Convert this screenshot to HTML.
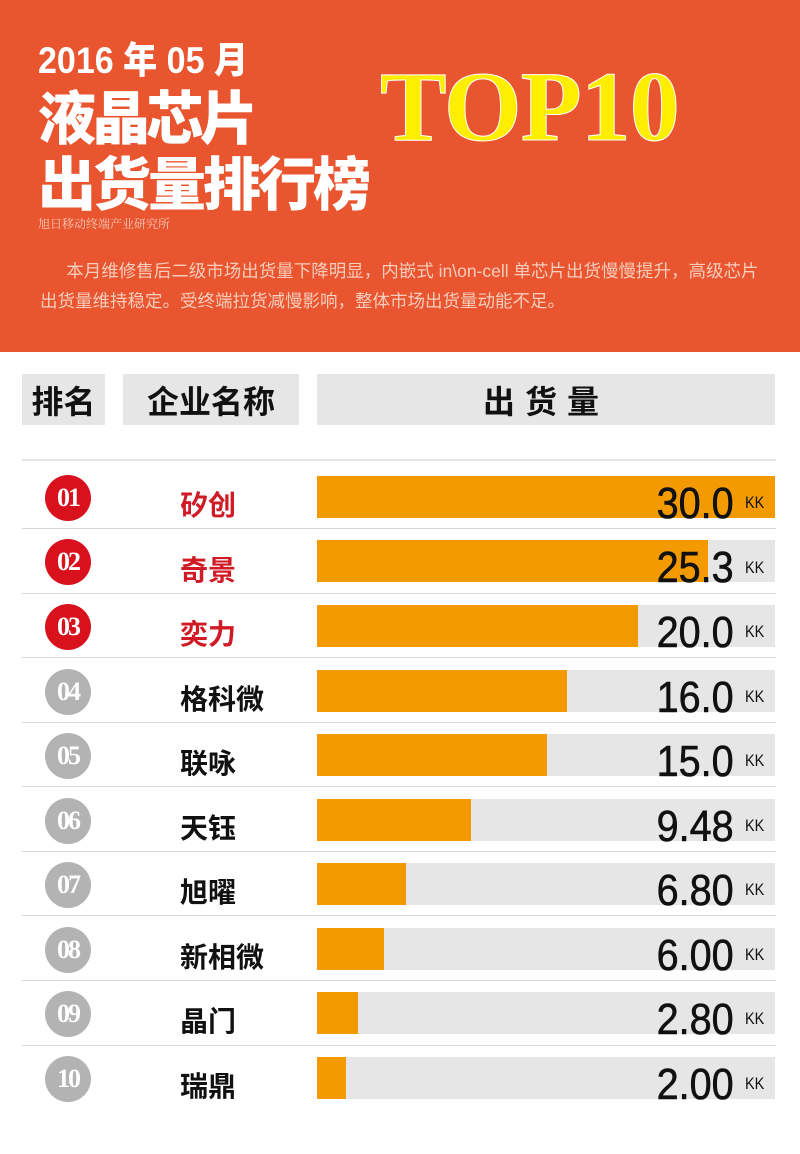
<!DOCTYPE html>
<html><head><meta charset="utf-8"><style>
*{margin:0;padding:0;box-sizing:border-box}
body{width:800px;height:1154px;position:relative;background:#fff;overflow:hidden;font-family:"Liberation Sans","Noto Sans CJK SC",sans-serif}
.a{position:absolute}
.hdr{left:0;top:0;width:800px;height:352px;background:#e8552f}
.t{color:#fff;font-weight:900;white-space:nowrap}
.gbox{background:#e6e6e6;top:374px;height:51px;font-size:32px;font-weight:bold;color:#111;display:flex;align-items:center;justify-content:center}
.line{left:22px;width:754px;height:1px;background:#d8d8d8}
.bg{left:317px;width:458px;height:42px;background:#e6e6e6}
.bar{left:317px;height:42px;background:#f29a00}
.c{left:45px;width:46px;height:46px;border-radius:50%;color:#fff;font-family:"Liberation Serif",serif;font-weight:bold;font-size:26px;display:flex;align-items:center;justify-content:center;letter-spacing:-2px}
.nm{left:180px;font-size:28px;font-weight:bold;color:#111}
.v{right:66px;font-size:44px;color:#111;transform:scaleX(.9);transform-origin:right;line-height:44px;-webkit-text-stroke:0.6px #111}
.kk{left:745px;font-size:17px;color:#111;transform:scaleX(.85);transform-origin:left}
</style></head><body>
<div class="a hdr"></div>
<div class="a t" style="left:38px;top:30px;font-size:37px;transform:scaleX(.92);transform-origin:left">2016 年 05 月</div>
<div class="a t" style="left:38px;top:72px;font-size:58px;letter-spacing:-4px">液晶芯片</div>
<div class="a t" style="left:38px;top:138px;font-size:58px;letter-spacing:-3px">出货量排行榜</div>
<div class="a" style="left:380px;top:56px;font-family:'Liberation Serif',serif;font-weight:bold;font-size:100px;color:#ffee00;-webkit-text-stroke:1px #fff;letter-spacing:-1px;line-height:102px">TOP10</div>
<div class="a" style="left:38px;top:215px;font-size:12px;color:#f6c9b8;font-family:'Noto Serif CJK SC',serif">旭日移动终端产业研究所</div>
<div class="a" style="left:40px;top:256px;width:760px;font-size:17.5px;color:#f7cdbd;line-height:30px;white-space:nowrap">&emsp;&ensp;本月维修售后二级市场出货量下降明显，内嵌式 in\on-cell 单芯片出货慢慢提升，高级芯片<br>出货量维持稳定。受终端拉货减慢影响，整体市场出货量动能不足。</div>
<div class="a gbox" style="left:22px;width:83px">排名</div>
<div class="a gbox" style="left:123px;width:176px">企业名称</div>
<div class="a gbox" style="left:317px;width:458px;letter-spacing:10px">出货量</div>
<div class="a line" style="top:459px;height:2px;background:#e3e3e3"></div>

<div class="a bg" style="top:476px"></div><div class="a bar" style="top:476px;width:458px"></div>
<div class="a c" style="top:475px;background:#d8111d">01</div><div class="a nm" style="top:484px;color:#d01a25">矽创</div>
<div class="a v" style="top:482px">30.0</div><div class="a kk" style="top:493px">KK</div>
<div class="a line" style="top:528px"></div>

<div class="a bg" style="top:540px"></div><div class="a bar" style="top:540px;width:391px"></div>
<div class="a c" style="top:539px;background:#d8111d">02</div><div class="a nm" style="top:549px;color:#d01a25">奇景</div>
<div class="a v" style="top:546px">25.3</div><div class="a kk" style="top:558px">KK</div>
<div class="a line" style="top:593px"></div>

<div class="a bg" style="top:605px"></div><div class="a bar" style="top:605px;width:321px"></div>
<div class="a c" style="top:604px;background:#d8111d">03</div><div class="a nm" style="top:613px;color:#d01a25">奕力</div>
<div class="a v" style="top:611px">20.0</div><div class="a kk" style="top:622px">KK</div>
<div class="a line" style="top:657px"></div>

<div class="a bg" style="top:670px"></div><div class="a bar" style="top:670px;width:250px"></div>
<div class="a c" style="top:669px;background:#b3b3b3">04</div><div class="a nm" style="top:678px">格科微</div>
<div class="a v" style="top:676px">16.0</div><div class="a kk" style="top:687px">KK</div>
<div class="a line" style="top:722px"></div>

<div class="a bg" style="top:734px"></div><div class="a bar" style="top:734px;width:230px"></div>
<div class="a c" style="top:733px;background:#b3b3b3">05</div><div class="a nm" style="top:742px">联咏</div>
<div class="a v" style="top:740px">15.0</div><div class="a kk" style="top:751px">KK</div>
<div class="a line" style="top:786px"></div>

<div class="a bg" style="top:799px"></div><div class="a bar" style="top:799px;width:154px"></div>
<div class="a c" style="top:798px;background:#b3b3b3">06</div><div class="a nm" style="top:807px">天钰</div>
<div class="a v" style="top:805px">9.48</div><div class="a kk" style="top:816px">KK</div>
<div class="a line" style="top:851px"></div>

<div class="a bg" style="top:863px"></div><div class="a bar" style="top:863px;width:89px"></div>
<div class="a c" style="top:862px;background:#b3b3b3">07</div><div class="a nm" style="top:871px">旭曜</div>
<div class="a v" style="top:869px">6.80</div><div class="a kk" style="top:880px">KK</div>
<div class="a line" style="top:915px"></div>

<div class="a bg" style="top:928px"></div><div class="a bar" style="top:928px;width:67px"></div>
<div class="a c" style="top:927px;background:#b3b3b3">08</div><div class="a nm" style="top:936px">新相微</div>
<div class="a v" style="top:934px">6.00</div><div class="a kk" style="top:945px">KK</div>
<div class="a line" style="top:980px"></div>

<div class="a bg" style="top:992px"></div><div class="a bar" style="top:992px;width:41px"></div>
<div class="a c" style="top:991px;background:#b3b3b3">09</div><div class="a nm" style="top:1000px">晶门</div>
<div class="a v" style="top:998px">2.80</div><div class="a kk" style="top:1009px">KK</div>
<div class="a line" style="top:1045px"></div>

<div class="a bg" style="top:1057px"></div><div class="a bar" style="top:1057px;width:29px"></div>
<div class="a c" style="top:1056px;background:#b3b3b3">10</div><div class="a nm" style="top:1065px">瑞鼎</div>
<div class="a v" style="top:1063px">2.00</div><div class="a kk" style="top:1074px">KK</div>
</body></html>
